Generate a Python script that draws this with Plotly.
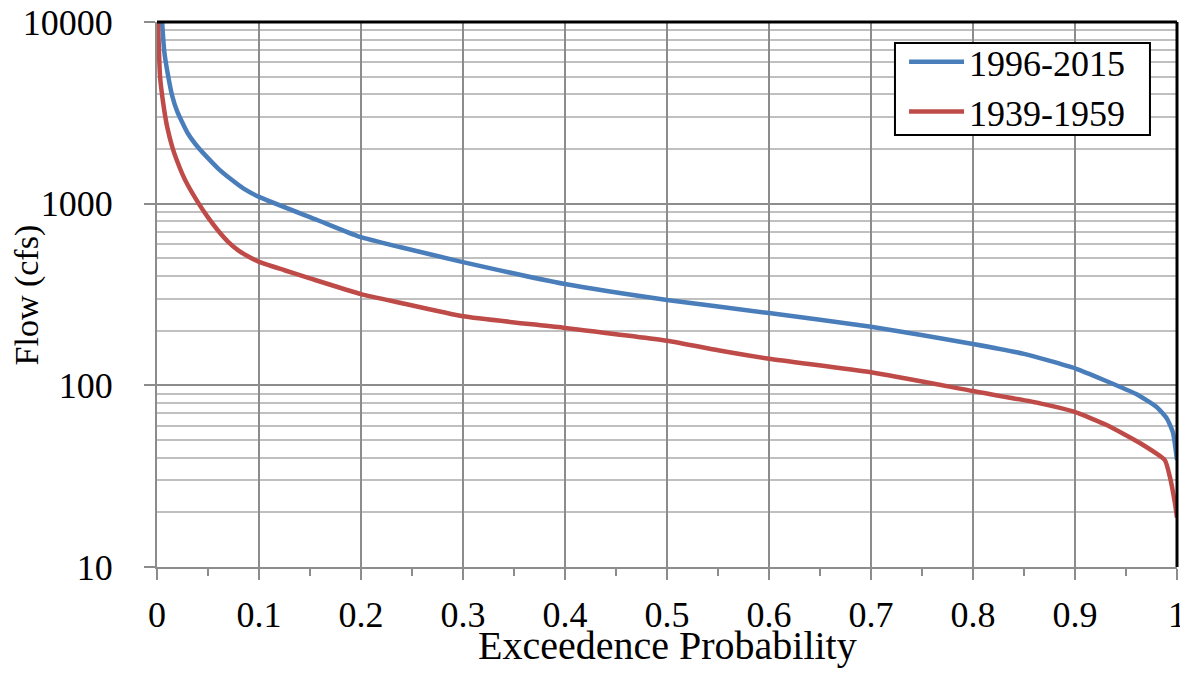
import plotly.graph_objects as go

# Exceedence probability vs flow (cfs)
p_recent = [0.005, 0.007, 0.01, 0.015, 0.02, 0.03, 0.04, 0.05, 0.06, 0.072, 0.085, 0.1,
            0.157, 0.199, 0.238, 0.3, 0.4, 0.5, 0.6, 0.7, 0.8, 0.85, 0.9, 0.93, 0.96, 0.98,
            0.99, 0.996, 1.0]
q_recent = [10000, 7000, 5400, 3900, 3200, 2450, 2050, 1780, 1560, 1370, 1210, 1090,
            813, 656, 577, 477, 361, 295, 250, 210, 169, 149, 124, 106, 89.5, 76,
            65.8, 55, 38.8]

p_early = [0.001, 0.003, 0.006, 0.01, 0.015, 0.02, 0.025, 0.03, 0.04, 0.05, 0.06, 0.07,
           0.08, 0.09, 0.1, 0.125, 0.15, 0.2, 0.238, 0.3, 0.4, 0.5, 0.55, 0.6, 0.7, 0.8,
           0.8657, 0.899, 0.931, 0.964, 0.988, 0.993, 0.998, 1.0]
q_early = [10000, 5000, 3600, 2640, 2050, 1700, 1450, 1270, 1020, 840, 710, 615,
           552, 510, 478, 430, 388, 318, 285, 240, 207, 176, 156, 140, 118, 93,
           79.6, 71.6, 60.5, 48, 38.8, 31.4, 22.4, 18.7]

x_ticks = [0, 0.1, 0.2, 0.3, 0.4, 0.5, 0.6, 0.7, 0.8, 0.9, 1]
x_labels = ["0", "0.1", "0.2", "0.3", "0.4", "0.5", "0.6", "0.7", "0.8", "0.9", "1"]
y_ticks = [10, 100, 1000, 10000]
y_labels = ["10", "100", "1000", "10000"]

FONT = "Palatino Linotype, Book Antiqua, Palatino, Liberation Serif, serif"
FS = 36

fig = go.Figure()
fig.add_trace(go.Scatter(x=p_recent, y=q_recent, mode="lines", name="1996-2015",
                         line=dict(color="#4A7EBB", width=4.5, shape="spline", smoothing=0.5)))
fig.add_trace(go.Scatter(x=p_early, y=q_early, mode="lines", name="1939-1959",
                         line=dict(color="#BE4B48", width=4.5, shape="spline", smoothing=0.5)))

fig.update_layout(
    width=1180, height=666,
    margin=dict(l=149, r=11, t=14, b=107),
    paper_bgcolor="white", plot_bgcolor="white",
    font=dict(family=FONT, size=FS, color="black"),
    showlegend=True,
    legend=dict(x=0.7324, y=0.982, xanchor="left", yanchor="top",
                borderwidth=0, bgcolor="rgba(0,0,0,0)",
                font=dict(family=FONT, size=FS), itemwidth=55,
                tracegroupgap=0),
    shapes=[
        dict(type="line", xref="paper", yref="paper", x0=0, x1=1, y0=1, y1=1,
             line=dict(color="black", width=3)),
        dict(type="line", xref="paper", yref="paper", x0=1, x1=1, y0=0, y1=1,
             line=dict(color="black", width=3)),
        dict(type="rect", xref="paper", yref="paper", layer="above",
             x0=0.7235, x1=0.9735, y0=0.7927, y1=0.9615,
             fillcolor="white", line=dict(color="black", width=2)),
    ],
    annotations=[
        dict(text="Exceedence Probability", xref="paper", yref="paper", x=0.5, y=0,
             xanchor="center", yanchor="middle", yshift=-78, showarrow=False,
             font=dict(family=FONT, size=40, color="black")),
        dict(text="Flow (cfs)", xref="paper", yref="paper", x=-0.1275, y=0.5,
             xanchor="center", yanchor="middle", textangle=-90, showarrow=False,
             font=dict(family=FONT, size=34, color="black")),
    ],
)

fig.update_xaxes(
    range=[0, 1], tickvals=x_ticks, ticktext=x_labels, automargin=False,
    showgrid=True, gridcolor="#8C8C8C", gridwidth=2,
    showline=True, linecolor="#8C8C8C", linewidth=2,
    ticks="outside", ticklen=11, tickwidth=2, tickcolor="#8C8C8C",
    minor=dict(dtick=0.05, tick0=0, ticks="outside", ticklen=7, tickcolor="#8C8C8C", tickwidth=2, showgrid=False),
    zeroline=False, ticklabelstandoff=4, ticklabeloverflow="allow",
    tickfont=dict(family=FONT, size=FS),
)
fig.update_yaxes(
    type="log", range=[1, 4], tickvals=y_ticks, ticktext=y_labels, automargin=False,
    showgrid=True, gridcolor="#8C8C8C", gridwidth=2,
    showline=True, linecolor="#8C8C8C", linewidth=2,
    ticks="outside", ticklen=11, tickwidth=2, tickcolor="#8C8C8C",
    minor=dict(dtick="D1", showgrid=True, gridcolor="#C0C0C0", gridwidth=2, ticks=""),
    zeroline=False, ticklabelstandoff=24, ticklabeloverflow="allow",
    tickfont=dict(family=FONT, size=FS),
)

fig.write_html("out.html")
